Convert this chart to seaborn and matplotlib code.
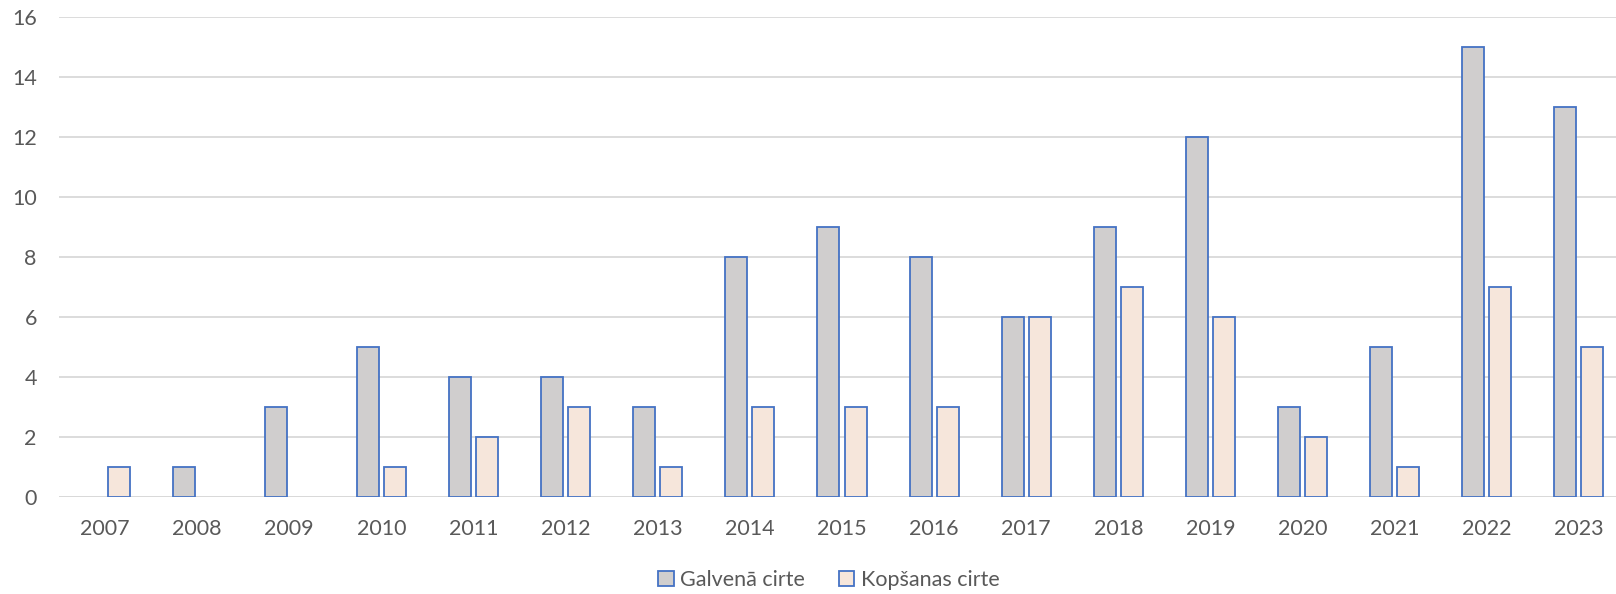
import matplotlib
matplotlib.use("Agg")
import matplotlib.pyplot as plt
import seaborn as sns
import pandas as pd
import numpy as np

years = ["2007", "2008", "2009", "2010", "2011", "2012", "2013", "2014", "2015",
         "2016", "2017", "2018", "2019", "2020", "2021", "2022", "2023"]
galvena = [0, 1, 3, 5, 4, 4, 3, 8, 9, 8, 6, 9, 12, 3, 5, 15, 13]
kopsanas = [1, 0, 0, 1, 2, 3, 1, 3, 3, 3, 6, 7, 6, 2, 1, 7, 5]
series_names = ["Galvenā cirte", "Kopšanas cirte"]
yticks = [0, 2, 4, 6, 8, 10, 12, 14, 16]

df = pd.DataFrame({
    "year": years * 2,
    "value": galvena + kopsanas,
    "series": [series_names[0]] * len(years) + [series_names[1]] * len(years),
})
df["value"] = df["value"].replace(0, np.nan)

sns.set_theme(style="white")
plt.rcParams["font.family"] = ["Lato", "DejaVu Sans"]

W, H = 1616, 594
left_px, right_px, top_px, bottom_px = 59, 1625, 17, 497
fig = plt.figure(figsize=(W / 100, H / 100), dpi=100)
ax = fig.add_axes([left_px / W, 1 - bottom_px / H, (right_px - left_px) / W,
                   (bottom_px - top_px) / H])

sns.barplot(data=df, x="year", y="value", hue="series", order=years,
            hue_order=series_names,
            palette={series_names[0]: "#D0CECE", series_names[1]: "#FBE5D6"},
            width=0.587, gap=0.185, edgecolor="#4472C4", linewidth=1.3,
            errorbar=None, ax=ax, zorder=3)

ax.set_ylim(0, 16)
ax.set_xlim(-0.5, len(years) - 0.5)
ax.set_yticks(yticks)
ax.yaxis.grid(True, color="#D9D9D9", linewidth=1.3, zorder=0)
ax.set_axisbelow(True)
for s in ax.spines.values():
    s.set_visible(False)
ax.axhline(0, color="#D9D9D9", linewidth=1.3, zorder=1)
ax.set_xlabel("")
ax.set_ylabel("")
ax.tick_params(axis="y", length=0, pad=16, labelsize=15.5, labelcolor="#595959")
ax.tick_params(axis="x", length=0, pad=16, labelsize=15.5, labelcolor="#595959")

leg = ax.legend(loc="center", bbox_to_anchor=(829 / W, (H - 580) / H),
                bbox_transform=fig.transFigure, ncol=2, frameon=False,
                fontsize=15.5, handlelength=0.7, handleheight=0.7,
                handletextpad=0.3, columnspacing=1.6)
for t in leg.get_texts():
    t.set_color("#595959")

fig.savefig("out.png", dpi=100)
